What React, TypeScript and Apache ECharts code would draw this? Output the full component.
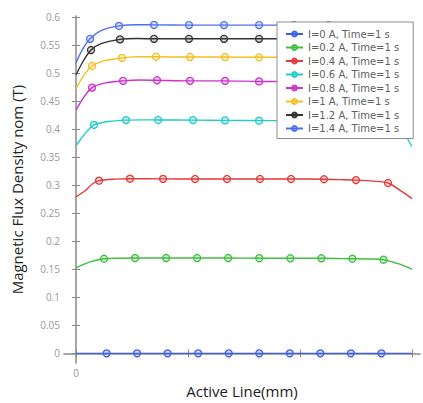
import { useEffect, useRef } from 'react';
import * as echarts from 'echarts';

// Legend entries, one per coil current
const seriesNames = [
  'I=0 A, Time=1 s',
  'I=0.2 A, Time=1 s',
  'I=0.4 A, Time=1 s',
  'I=0.6 A, Time=1 s',
  'I=0.8 A, Time=1 s',
  'I=1 A, Time=1 s',
  'I=1.2 A, Time=1 s',
  'I=1.4 A, Time=1 s',
];

const seriesColors = ['#3d5ef0', '#3fbf3f', '#e03a3a', '#22cccc', '#cc33cc', '#f0c024', '#333333', '#4f6ff2'];

// Points along the active line: [position (mm), |B| (T), marker?]
const fluxI0 = [
  [0, 0], [3, 0, 1], [6, 0, 1], [9, 0, 1], [12, 0, 1], [15, 0, 1], [18, 0, 1], [21, 0, 1], [24, 0, 1],
  [27, 0, 1], [30, 0, 1], [33, 0],
];
const fluxI02 = [
  [0, 0.1525], [1.37, 0.163], [2.75, 0.1687, 1], [4.3, 0.1697], [5.8, 0.17, 1], [8.85, 0.17, 1],
  [11.9, 0.17, 1], [14.95, 0.17, 1], [18.0, 0.1697, 1], [21.05, 0.1695, 1], [24.1, 0.1695, 1],
  [27.15, 0.1687, 1], [28.8, 0.1683], [30.2, 0.167, 1], [31.8, 0.159], [33, 0.15],
];
const fluxI04 = [
  [0, 0.279], [0.88, 0.29], [1.6, 0.302], [2.26, 0.308, 1], [3.8, 0.3108], [5.3, 0.3115, 1],
  [8.55, 0.3112, 1], [11.69, 0.311, 1], [14.83, 0.311, 1], [18.07, 0.311, 1], [21.12, 0.311, 1],
  [24.36, 0.3105, 1], [26, 0.3098], [27.5, 0.309, 1], [29.2, 0.3072], [30.65, 0.3038, 1],
  [32.1, 0.2875], [33, 0.276],
];
const fluxI06 = [
  [0, 0.37], [0.8, 0.39], [1.77, 0.4075, 1], [3.2, 0.4135], [4.91, 0.416, 1], [6.5, 0.4165],
  [8.06, 0.4162, 1], [11.49, 0.416, 1], [14.64, 0.4155, 1], [17.98, 0.415, 1], [21.3, 0.415, 1],
  [24.6, 0.415, 1], [27.9, 0.4155, 1], [29.8, 0.4135], [31.23, 0.4075, 1], [32.1, 0.395], [33, 0.369],
];
const fluxI08 = [
  [0, 0.434], [0.7, 0.455], [1.57, 0.474, 1], [2.8, 0.482], [4.62, 0.486, 1], [6.3, 0.4875],
  [7.96, 0.487, 1], [11.2, 0.486, 1], [14.64, 0.486, 1], [17.98, 0.485, 1], [21.3, 0.485, 1],
  [24.6, 0.4855, 1], [27.9, 0.486, 1], [30.2, 0.482], [31.43, 0.474, 1], [32.3, 0.455], [33, 0.434],
];
const fluxI1 = [
  [0, 0.472], [0.7, 0.494], [1.57, 0.5125, 1], [2.8, 0.522], [4.52, 0.527, 1], [6.2, 0.5292],
  [7.86, 0.529, 1], [11.2, 0.5285, 1], [14.64, 0.5285, 1], [17.98, 0.528, 1], [21.3, 0.528, 1],
  [24.6, 0.5285, 1], [28.1, 0.527, 1], [30.2, 0.522], [31.43, 0.5125, 1], [32.3, 0.494], [33, 0.472],
];
const fluxI12 = [
  [0, 0.497], [0.7, 0.521], [1.47, 0.541, 1], [2.4, 0.552], [4.32, 0.56, 1], [6, 0.5615],
  [7.66, 0.561, 1], [11.1, 0.561, 1], [14.54, 0.561, 1], [17.98, 0.561, 1], [21.4, 0.561, 1],
  [24.8, 0.561, 1], [28.4, 0.56, 1], [30.6, 0.552], [31.53, 0.541, 1], [32.3, 0.521], [33, 0.497],
];
const fluxI14 = [
  [0, 0.518], [0.6, 0.541], [1.38, 0.561, 1], [2.5, 0.576], [4.22, 0.584, 1], [6, 0.5862],
  [7.66, 0.5858, 1], [11.1, 0.5855, 1], [14.54, 0.5855, 1], [17.98, 0.5855, 1], [21.4, 0.5855, 1],
  [24.8, 0.5855, 1], [28.5, 0.584, 1], [30.5, 0.576], [31.62, 0.561, 1], [32.4, 0.541], [33, 0.518],
];

const fluxSeries = [fluxI0, fluxI02, fluxI04, fluxI06, fluxI08, fluxI1, fluxI12, fluxI14];

const yTicks = [0, 0.05, 0.1, 0.15, 0.2, 0.25, 0.3, 0.35, 0.4, 0.45, 0.5, 0.55, 0.6];
const yTickLabels = ['0', '0.05', '0.1', '0.15', '0.2', '0.25', '0.3', '0.35', '0.4', '0.45', '0.5', '0.55', '0.6'];
const xTicks = [0, 11, 22, 33];
const xTickLabels = ['0'];

const X_MIN = -1.18;
const X_MAX = 33.79;
const Y_MIN = -0.0174;
const Y_MAX = 0.6017;

function tint(hex: string, alpha: number) {
  const n = parseInt(hex.slice(1), 16);
  return `rgba(${(n >> 16) & 255},${(n >> 8) & 255},${n & 255},${alpha})`;
}

export default function App() {
  const ref = useRef<HTMLDivElement>(null);

  useEffect(() => {
    document.body.style.margin = '0';
    const chart = echarts.init(ref.current!, null, { renderer: 'svg' });

    const frameAxisLine = { show: true, lineStyle: { color: '#8a8a8a', width: 1.5 } };
    const frameAxisLineLight = { show: true, lineStyle: { color: '#a8a8a8', width: 1 } };
    const tickStyle = { color: '#8a8a8a', width: 1 };

    chart.setOption({
      animation: false,
      backgroundColor: '#ffffff',
      grid: { left: 64, right: 3, top: 16, bottom: 31 },
      legend: {
        orient: 'vertical',
        left: 277,
        top: 22,
        itemWidth: 17,
        itemHeight: 6,
        itemGap: 1.5,
        padding: [6, 14, 4, 8],
        backgroundColor: '#ffffff',
        borderColor: '#8c8c8c',
        borderWidth: 1,
        selectedMode: false,
        textStyle: { fontSize: 10, color: '#606060', fontFamily: 'DejaVu Sans', lineHeight: 12 },
        data: seriesNames,
      },
      xAxis: [
        {
          type: 'value',
          min: X_MIN,
          max: X_MAX,
          position: 'bottom',
          name: 'Active Line(mm)',
          nameLocation: 'middle',
          nameGap: 15,
          nameTextStyle: { fontFamily: 'Open Sans', fontSize: 15, color: '#222222' },
          axisLine: frameAxisLine,
          axisTick: { show: true, inside: true, length: 4, customValues: xTicks, lineStyle: tickStyle },
          axisLabel: {
            show: true,
            customValues: [0],
            formatter: (v: number) => (Math.abs(v) < 1e-9 ? xTickLabels[0] : ''),
            color: '#999999',
            fontSize: 10,
            margin: 5,
            fontFamily: 'Open Sans',
          },
          splitLine: { show: false },
        },
        {
          type: 'value',
          min: X_MIN,
          max: X_MAX,
          position: 'top',
          axisLine: frameAxisLineLight,
          axisTick: { show: true, inside: true, length: 4, customValues: xTicks, lineStyle: tickStyle },
          axisLabel: { show: false },
          splitLine: { show: false },
        },
      ],
      yAxis: [
        {
          type: 'value',
          min: Y_MIN,
          max: Y_MAX,
          position: 'left',
          name: 'Magnetic Flux Density nom (T)',
          nameLocation: 'middle',
          nameGap: 40,
          nameTextStyle: { fontFamily: 'Open Sans', fontSize: 15, color: '#222222' },
          axisLine: frameAxisLine,
          axisTick: { show: true, inside: true, length: 4, customValues: yTicks, lineStyle: tickStyle },
          axisLabel: {
            show: true,
            customValues: yTicks,
            formatter: (v: number) => {
              const i = yTicks.findIndex((t) => Math.abs(t - v) < 1e-9);
              return i >= 0 ? yTickLabels[i] : '';
            },
            color: '#999999',
            fontSize: 10,
            margin: 4,
            fontFamily: 'Open Sans',
          },
          splitLine: { show: false },
        },
        {
          type: 'value',
          min: Y_MIN,
          max: Y_MAX,
          position: 'right',
          axisLine: frameAxisLineLight,
          axisTick: { show: true, inside: true, length: 4, customValues: yTicks, lineStyle: tickStyle },
          axisLabel: { show: false },
          splitLine: { show: false },
        },
      ],
      series: fluxSeries.map((pts, k) => ({
        name: seriesNames[k],
        type: 'line',
        xAxisIndex: 0,
        yAxisIndex: 0,
        smooth: 0.3,
        symbol: 'circle',
        symbolSize: 7,
        showAllSymbol: true,
        lineStyle: { color: seriesColors[k], width: 1.4 },
        itemStyle: { color: tint(seriesColors[k], 0.2), borderColor: seriesColors[k], borderWidth: 1.3 },
        emphasis: { disabled: true },
        data: pts.map((p) => ({ value: [p[0], p[1]], symbol: p[2] ? 'circle' : 'none' })),
      })),
    });

    return () => chart.dispose();
  }, []);

  return <div ref={ref} style={{ width: 423, height: 403 }} />;
}
